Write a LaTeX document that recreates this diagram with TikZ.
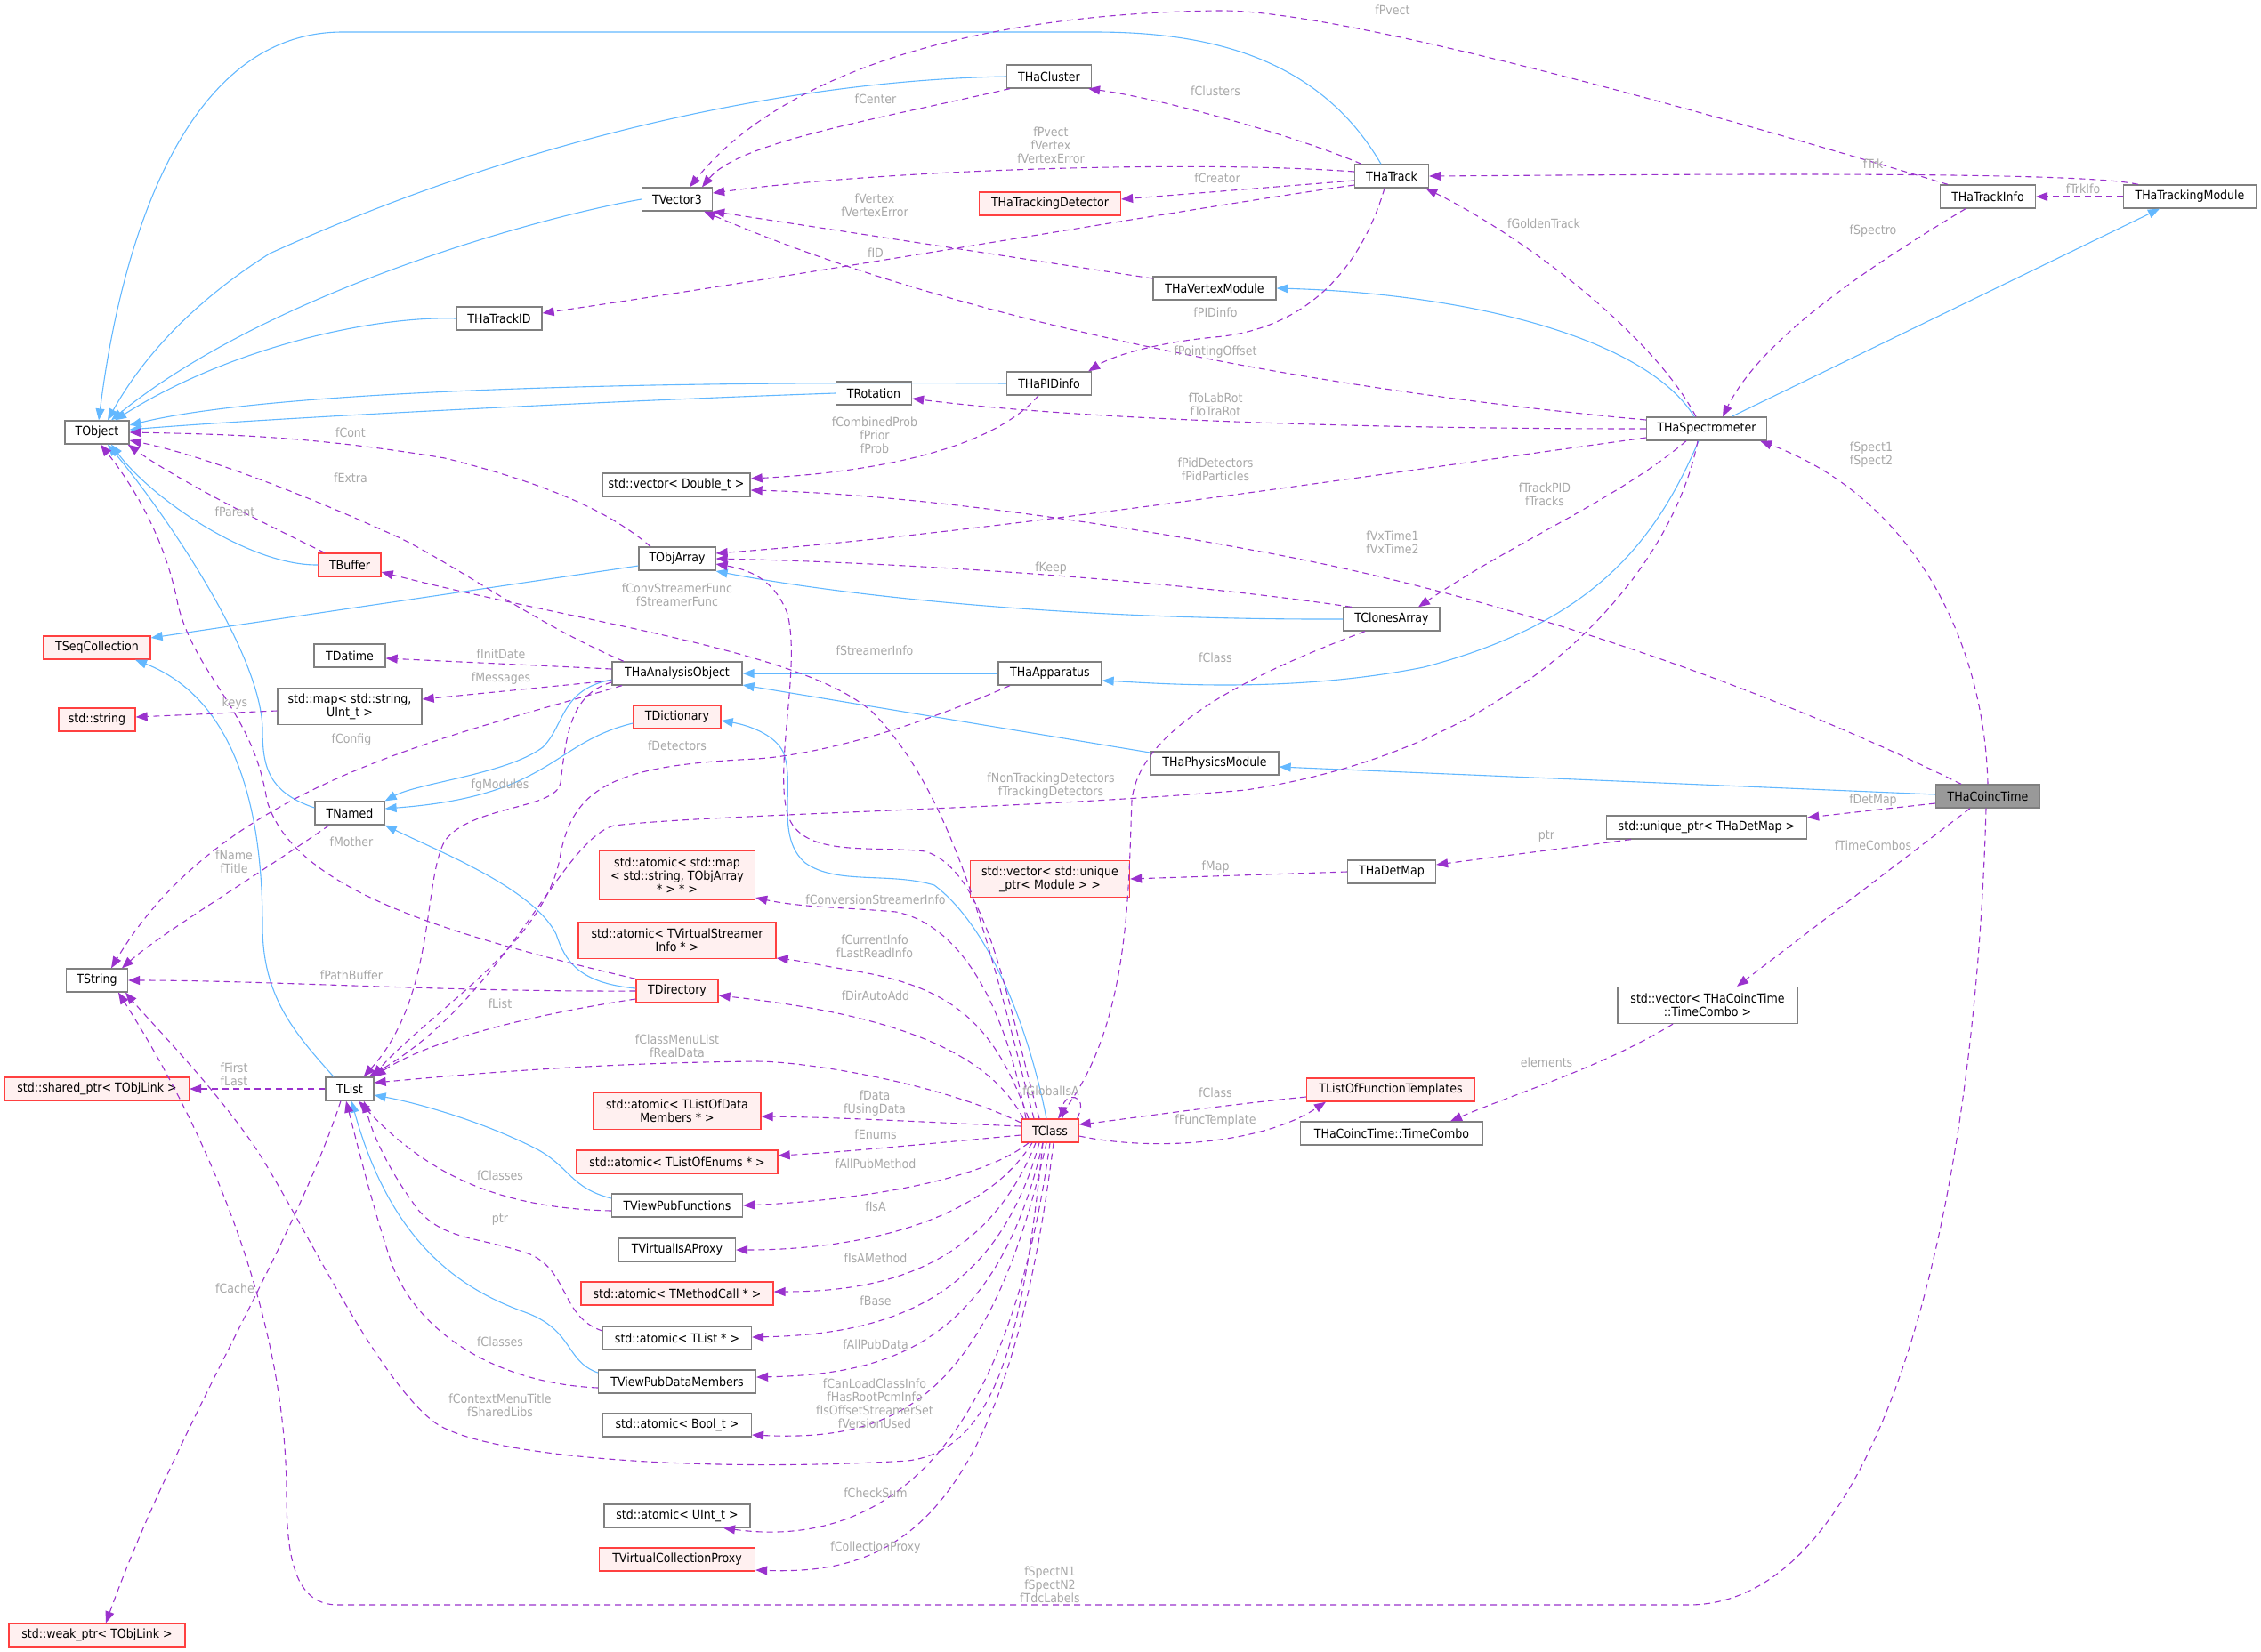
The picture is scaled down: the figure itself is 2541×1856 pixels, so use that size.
\documentclass[tikz,border=0pt]{standalone}
\usepackage{fontspec}
\newfontfamily\dvsc{DejaVu Sans Condensed}
\usetikzlibrary{arrows.meta}
\definecolor{inhblue}{HTML}{63B8FF}
\definecolor{memviolet}{HTML}{9A32CD}
\definecolor{lblgray}{HTML}{A8A8A8}
\definecolor{boxgray}{HTML}{808080}
\definecolor{extfill}{HTML}{FFF0F0}
\definecolor{extred}{HTML}{FF4040}
\definecolor{maingray}{HTML}{999999}
\newcommand{\nodefont}{\dvsc\fontsize{14}{15}\selectfont}
\tikzset{
  cls/.style={draw=boxgray, fill=white, line width=1.3pt, minimum height=26pt, inner xsep=3pt, inner ysep=2pt, font=\nodefont, align=center},
  clsext/.style={cls, draw=extred, fill=extfill},
  clsmain/.style={cls, fill=maingray},
  inherit/.style={draw=inhblue, line width=1.1pt, -{Triangle[length=13pt,width=10pt]}},
  member/.style={draw=memviolet, line width=1.1pt, dash pattern=on 7pt off 5pt, -{Triangle[length=13pt,width=10pt]}},
  lbl/.style={text=lblgray, font=\nodefont, align=center, inner sep=0pt}
}
\begin{document}
\begin{tikzpicture}[x=1pt,y=-1pt]
\useasboundingbox (0,0) rectangle (2541,1856);

% left column
\node[cls, minimum width=72pt] (tobj) at (109,486) {TObject};
\node[clsext, minimum width=120pt] (seqcol) at (109,728) {TSeqCollection};
\node[clsext, minimum width=86pt] (sstr) at (109,809) {std::string};
\node[cls, minimum width=69pt] (tstr) at (109,1102) {TString};
\node[clsext, minimum width=207pt] (sptr) at (109,1224) {std::shared\_ptr< TObjLink >};
\node[clsext, minimum width=198pt] (wptr) at (109,1838) {std::weak\_ptr< TObjLink >};

% second column
\node[cls, minimum width=96pt] (trkid) at (561,358) {THaTrackID};
\node[clsext, minimum width=70pt] (tbuf) at (393,635) {TBuffer};
\node[cls, minimum width=80pt] (datime) at (393,737) {TDatime};
\node[cls, minimum width=162pt, minimum height=41pt] (smap) at (393,794) {std::map< std::string,\\ UInt\_t >};
\node[cls, minimum width=78pt] (tnamed) at (393,914) {TNamed};
\node[cls, minimum width=54pt] (tlist) at (393,1224) {TList};

% third column
\node[cls, minimum width=79pt] (tvec) at (761,224) {TVector3};
\node[cls, minimum width=166pt] (vecdbl) at (760,545) {std::vector< Double\_t >};
\node[cls, minimum width=86pt] (objarr) at (761,628) {TObjArray};
\node[cls, minimum width=146pt] (anaobj) at (761,757) {THaAnalysisObject};
\node[clsext, minimum width=98pt] (tdict) at (761,806) {TDictionary};
\node[clsext, minimum width=175pt, minimum height=55pt] (amap) at (761,984) {std::atomic< std::map\\< std::string, TObjArray\\ * > * >};
\node[clsext, minimum width=222pt, minimum height=41pt] (avsi) at (761,1057) {std::atomic< TVirtualStreamer\\Info * >};
\node[clsext, minimum width=92pt] (tdir) at (761,1114) {TDirectory};
\node[clsext, minimum width=188pt, minimum height=41pt] (adm) at (761,1249) {std::atomic< TListOfData\\Members * >};
\node[clsext, minimum width=226pt] (aenum) at (761,1306) {std::atomic< TListOfEnums * >};
\node[cls, minimum width=147pt] (vpf) at (761,1355) {TViewPubFunctions};
\node[cls, minimum width=131pt] (visa) at (761,1405) {TVirtualIsAProxy};
\node[clsext, minimum width=216pt] (amc) at (761,1454) {std::atomic< TMethodCall * >};
\node[cls, minimum width=167pt] (alist) at (761,1504) {std::atomic< TList * >};
\node[cls, minimum width=177pt] (vpd) at (761,1553) {TViewPubDataMembers};
\node[cls, minimum width=167pt] (abool) at (761,1602) {std::atomic< Bool\_t >};
\node[cls, minimum width=164pt] (auint) at (761,1704) {std::atomic< UInt\_t >};
\node[clsext, minimum width=175pt] (vcp) at (761,1753) {TVirtualCollectionProxy};

% fourth column
\node[cls, minimum width=85pt] (rot) at (982,442) {TRotation};
\node[cls, minimum width=95pt] (clus) at (1179,86) {THaCluster};
\node[clsext, minimum width=159pt] (trkdet) at (1180,229) {THaTrackingDetector};
\node[cls, minimum width=95pt] (pid) at (1179,431) {THaPIDinfo};
\node[cls, minimum width=116pt] (app) at (1180,757) {THaApparatus};
\node[clsext, minimum width=179pt, minimum height=41pt] (vmod) at (1180,988) {std::vector< std::unique\\\_ptr< Module > >};
\node[clsext, minimum width=64pt] (tclass) at (1180,1271) {TClass};

% fifth column
\node[cls, minimum width=138pt] (vtxmod) at (1365,324) {THaVertexModule};
\node[cls, minimum width=144pt] (phys) at (1365,858) {THaPhysicsModule};
\node[cls, minimum width=83pt] (track) at (1564,198) {THaTrack};
\node[cls, minimum width=108pt] (clones) at (1564,696) {TClonesArray};
\node[cls, minimum width=99pt] (detmap) at (1564,980) {THaDetMap};
\node[clsext, minimum width=189pt] (lft) at (1563,1225) {TListOfFunctionTemplates};
\node[cls, minimum width=205pt] (combo) at (1564,1274) {THaCoincTime::TimeCombo};

% right part
\node[cls, minimum width=135pt] (spec) at (1918,482) {THaSpectrometer};
\node[cls, minimum width=225pt] (uptr) at (1918,930) {std::unique\_ptr< THaDetMap >};
\node[cls, minimum width=202pt, minimum height=41pt] (vcombo) at (1919,1130) {std::vector< THaCoincTime\\::TimeCombo >};
\node[cls, minimum width=107pt] (trkinfo) at (2234,221) {THaTrackInfo};
\node[cls, minimum width=149pt] (trkmod) at (2461,221) {THaTrackingModule};
\node[clsmain, minimum width=117pt] (coinc) at (2234,895) {THaCoincTime};

% inheritance
\draw[inherit] ([xshift=-12pt]track.north) .. controls (1480,60) and (1350,36) .. (1230,36) -- (385,36) .. controls (190,36) and (130,320) .. ([xshift=2pt]tobj.north);
\draw[inherit] (clus.west) .. controls (900,90) and (600,150) .. (303,285) .. controls (200,350) and (150,420) .. ([xshift=12pt]tobj.north);
\draw[inherit] (tvec.west) .. controls (600,245) and (300,330) .. ([xshift=16pt]tobj.north);
\draw[inherit] (trkid.west) .. controls (420,355) and (260,390) .. ([xshift=20pt]tobj.north);
\draw[inherit] (pid.west) .. controls (700,428) and (300,440) .. ([yshift=8pt]tobj.east);
\draw[inherit] (rot.west) .. controls (700,450) and (300,470) .. ([yshift=3pt]tobj.east);
\draw[inherit] (tbuf.west) .. controls (280,636) and (170,560) .. ([xshift=16pt]tobj.south);
\draw[inherit] ([yshift=6pt]tnamed.west) .. controls (300,890) and (295,860) .. (295,818) .. controls (292,730) and (180,570) .. ([xshift=12pt]tobj.south);
\draw[inherit] ([yshift=-8pt]objarr.west) -- ([yshift=11pt]seqcol.east);
\draw[inherit] ([xshift=-18pt]tlist.north) .. controls (330,1160) and (295,1120) .. (295,1040) .. controls (295,880) and (250,780) .. ([xshift=43pt]seqcol.south);
\draw[inherit] (clones.west) .. controls (1200,697) and (950,670) .. ([yshift=-14pt]objarr.east);
\draw[inherit] (app.west) -- (anaobj.east);
\draw[inherit] ([yshift=12pt]phys.west) -- ([yshift=-13pt]anaobj.east);
\draw[inherit] ([xshift=-9pt]spec.south) .. controls (1860,610) and (1790,700) .. (1600,750) .. controls (1450,780) and (1300,768) .. ([yshift=-8pt]app.east);
\draw[inherit] ([xshift=-14pt]spec.north) .. controls (1850,380) and (1650,330) .. (vtxmod.east);
\draw[inherit] ([xshift=28pt]spec.north) -- ([xshift=-34pt]trkmod.south);
\draw[inherit] ([yshift=2pt]coinc.west) -- ([yshift=-4pt]phys.east);
\draw[inherit] ([yshift=-7pt]tdict.west) .. controls (620,835) and (620,895) .. ([yshift=5pt]tnamed.east);
\draw[inherit] ([yshift=-7pt]anaobj.west) .. controls (630,775) and (635,815) .. (610,840) .. controls (570,870) and (470,880) .. (tnamed.north east);
\draw[inherit] ([yshift=3pt]tdir.west) .. controls (650,1105) and (635,1080) .. (625,1050) .. controls (600,1000) and (500,960) .. (tnamed.south east);
\draw[inherit] ([xshift=-4pt]tclass.north) .. controls (1155,1150) and (1110,1040) .. (1050,995) .. controls (1000,980) and (940,995) .. (905,970) .. controls (870,940) and (895,880) .. (880,845) .. controls (870,825) and (840,815) .. ([yshift=-4pt]tdict.east);
\draw[inherit] ([yshift=8pt]vpf.west) .. controls (640,1335) and (640,1310) .. (600,1290) .. controls (540,1260) and (470,1240) .. ([yshift=-7pt]tlist.east);
\draw[inherit] ([yshift=10pt]vpd.west) .. controls (635,1530) and (645,1495) .. (590,1475) .. controls (520,1450) and (440,1400) .. ([xshift=2pt]tlist.south);

% members
\draw[member] ([xshift=-44pt]clus.south) .. controls (980,135) and (830,160) .. ([xshift=28pt]tvec.north);
\draw[member] ([xshift=-45pt]trkinfo.north) .. controls (1900,120) and (1500,10) .. (1370,12) .. controls (1100,15) and (880,80) .. ([xshift=14pt]tvec.north);
\draw[member] ([yshift=5pt]track.west) .. controls (1350,180) and (1000,190) .. ([yshift=7pt]tvec.east);
\draw[member] ([yshift=-5pt]track.west) -- ([yshift=5pt]trkdet.east);
\draw[member] ([yshift=-10pt]track.west) .. controls (1300,240) and (900,310) .. ([yshift=6pt]trkid.east);
\draw[member] ([xshift=-34pt]track.north) .. controls (1450,150) and (1300,110) .. ([xshift=-4pt]clus.south east);
\draw[member] ([xshift=-8pt]track.south) .. controls (1530,300) and (1470,370) .. (1365,379) .. controls (1300,385) and (1250,400) .. ([xshift=-4pt]pid.north east);
\draw[member] ([yshift=11pt]vtxmod.west) -- (tvec.south east);
\draw[member] ([yshift=10pt]spec.west) .. controls (1500,440) and (1100,370) .. ([xshift=-10pt]tvec.south east);
\draw[member] (spec.west) .. controls (1500,482) and (1200,470) .. ([yshift=-6pt]rot.east);
\draw[member] ([yshift=-10pt]spec.west) .. controls (1500,540) and (1100,600) .. ([yshift=6pt]objarr.east);
\draw[member] ([xshift=-12pt]pid.south) .. controls (1120,500) and (1000,530) .. ([yshift=7pt]vecdbl.east);
\draw[member] ([xshift=-30pt]coinc.north) .. controls (2000,780) and (1700,670) .. (1400,617) .. controls (1200,580) and (1000,555) .. ([yshift=-6pt]vecdbl.east);
\draw[member] ([xshift=-58pt]trkmod.north) .. controls (2340,192) and (1900,196) .. (track.east);
\draw[member] (trkmod.west) -- (trkinfo.east);
\draw[member] ([xshift=-25pt]trkinfo.south) .. controls (2100,300) and (1980,380) .. ([xshift=18pt]spec.north);
\draw[member] ([xshift=-12pt]spec.north) .. controls (1860,380) and (1720,270) .. ([xshift=-4pt]track.south east);
\draw[member] (coinc.north) .. controls (2230,720) and (2150,560) .. ([xshift=-8pt]spec.south east);
\draw[member] ([xshift=-23pt]spec.south) .. controls (1820,560) and (1700,610) .. ([xshift=30pt]clones.north);
\draw[member] ([xshift=-10pt]spec.south) .. controls (1880,640) and (1720,840) .. (1400,888) .. controls (1150,910) and (800,915) .. (690,928) .. controls (630,945) and (570,1120) .. ([xshift=-6pt]tlist.north east);
\draw[member] ([yshift=-10pt]anaobj.west) .. controls (640,780) and (636,830) .. (630,880) .. controls (625,910) and (530,905) .. (500,945) .. controls (475,990) and (490,1120) .. ([xshift=-12pt]tlist.north east);
\draw[member] ([xshift=-45pt]app.south) .. controls (1000,830) and (900,850) .. (850,853) .. controls (700,860) and (645,880) .. (630,960) .. controls (615,1060) and (480,1140) .. ([xshift=-2pt]tlist.north east);
\draw[member] ([yshift=-9pt]tdir.west) .. controls (600,1140) and (480,1170) .. (tlist.north east);
\draw[member] ([yshift=9pt]tclass.west) .. controls (1050,1215) and (900,1193) .. (850,1193) .. controls (650,1195) and (500,1210) .. ([yshift=7pt]tlist.east);
\draw[member] ([yshift=-6pt]vpf.west) .. controls (560,1358) and (480,1320) .. ([xshift=10pt]tlist.south);
\draw[member] ([yshift=8pt]alist.west) .. controls (630,1480) and (640,1430) .. (596,1410) .. controls (540,1390) and (500,1395) .. (470,1360) .. controls (440,1320) and (420,1280) .. ([xshift=16pt]tlist.south);
\draw[member] ([yshift=-7pt]vpd.west) .. controls (560,1555) and (470,1500) .. (440,1420) .. controls (420,1360) and (405,1300) .. ([xshift=-4pt]tlist.south);
\draw[member] ([xshift=-30pt]objarr.north) .. controls (680,570) and (600,540) .. (500,515) .. controls (350,490) and (250,488) .. (tobj.east);
\draw[member] ([xshift=-60pt]anaobj.north) .. controls (600,700) and (520,640) .. (450,605) .. controls (330,550) and (220,510) .. ([yshift=-9pt]tobj.east);
\draw[member] ([xshift=-28pt]tbuf.north) .. controls (300,590) and (200,540) .. ([xshift=-2pt]tobj.south east);
\draw[member] (tdir.north west) .. controls (500,1050) and (330,1000) .. (300,900) .. controls (285,800) and (220,760) .. (200,680) .. controls (185,600) and (145,540) .. ([xshift=4pt]tobj.south);
\draw[member] ([yshift=-5pt]smap.west) -- ([yshift=3pt]sstr.east);
\draw[member] ([yshift=5pt]anaobj.west) -- ([yshift=-3pt]datime.east);
\draw[member] ([yshift=-8pt]anaobj.west) -- ([yshift=8pt]smap.east);
\draw[member] ([xshift=-62pt]anaobj.south) .. controls (500,830) and (250,880) .. ([xshift=16pt]tstr.north);
\draw[member] ([xshift=-23pt]tnamed.south) .. controls (280,990) and (180,1050) .. ([xshift=28pt]tstr.north);
\draw[member] (tdir.west) .. controls (500,1115) and (300,1102) .. (tstr.east);
\draw[member] ([xshift=-30pt]tclass.north) .. controls (1110,1180) and (1000,1140) .. ([yshift=-5pt]tdir.east);
\draw[member] ([xshift=-18pt]tclass.north) .. controls (1120,1100) and (1080,900) .. (980,800) .. controls (900,730) and (650,700) .. ([yshift=-8pt]tbuf.east);
\draw[member] ([xshift=-12pt]tclass.north) .. controls (1130,1120) and (1110,980) .. (1040,957) .. controls (980,950) and (900,965) .. (885,915) .. controls (870,860) and (900,750) .. (885,690) .. controls (870,650) and (840,640) .. ([yshift=-6pt]objarr.east);
\draw[member] ([xshift=-45pt]clones.north) .. controls (1300,650) and (1000,632) .. (objarr.east);
\draw[member] ([xshift=-30pt]clones.south) .. controls (1400,760) and (1280,820) .. (1272,900) .. controls (1268,1000) and (1270,1150) .. ([xshift=9pt]tclass.north);
\draw[member] ([xshift=-2pt]tclass.north east) .. controls (1225,1228) and (1195,1228) .. ([xshift=14pt]tclass.north);
\draw[member] ([yshift=-8pt]lft.west) .. controls (1350,1245) and (1250,1260) .. ([yshift=7pt]tclass.east);
\draw[member] ([yshift=-6pt]tclass.east) .. controls (1300,1295) and (1420,1285) .. ([xshift=-73pt]lft.south);
\draw[member] ([xshift=-39pt]vcombo.south) .. controls (1800,1200) and (1700,1230) .. ([xshift=66pt]combo.north);
\draw[member] ([xshift=-20pt]coinc.south) -- ([xshift=33pt]vcombo.north);
\draw[member] ([yshift=-8pt]coinc.west) -- ([yshift=11pt]uptr.east);
\draw[member] ([xshift=-85pt]uptr.south) -- ([yshift=8pt]detmap.east);
\draw[member] (detmap.west) -- (vmod.east);
\draw[member] ([xshift=-2pt]coinc.south) .. controls (2220,1350) and (2120,1800) .. (1900,1804) -- (380,1804) .. controls (335,1804) and (322,1760) .. (322,1680) .. controls (322,1500) and (250,1300) .. ([xshift=24pt]tstr.south);
\draw[member] ([xshift=-8pt]tclass.south) .. controls (1150,1500) and (1120,1630) .. (1020,1642) .. controls (800,1655) and (550,1640) .. (490,1600) .. controls (420,1550) and (330,1350) .. (280,1280) .. controls (230,1210) and (170,1150) .. ([xshift=32pt]tstr.south);
\draw[member] (tlist.west) -- (sptr.east);
\draw[member] ([xshift=-10pt]tlist.south) .. controls (330,1400) and (200,1600) .. ([xshift=10pt]wptr.north);
\draw[member] ([xshift=-27pt]tclass.north) .. controls (1130,1130) and (1080,1040) .. (1007,1025) .. controls (950,1020) and (900,1020) .. ([yshift=-25pt]amap.east);
\draw[member] ([xshift=-24pt]tclass.north) .. controls (1120,1160) and (1080,1110) .. (958,1091) .. controls (920,1085) and (900,1080) .. ([yshift=-20pt]avsi.east);
\draw[member] ([yshift=5pt]tclass.west) .. controls (1050,1262) and (950,1256) .. ([yshift=-6pt]adm.east);
\draw[member] ([yshift=-5pt]tclass.west) .. controls (1050,1285) and (950,1295) .. ([yshift=7pt]aenum.east);
\draw[member] ([xshift=-24pt]tclass.south) .. controls (1100,1330) and (950,1350) .. (vpf.east);
\draw[member] ([xshift=-20pt]tclass.south) .. controls (1100,1380) and (950,1405) .. (visa.east);
\draw[member] ([xshift=-16pt]tclass.south) .. controls (1110,1420) and (1000,1452) .. ([yshift=2pt]amc.east);
\draw[member] ([xshift=-12pt]tclass.south) .. controls (1120,1460) and (1000,1500) .. ([yshift=1pt]alist.east);
\draw[member] ([xshift=-8pt]tclass.south) .. controls (1120,1510) and (1000,1545) .. ([yshift=5pt]vpd.east);
\draw[member] ([xshift=-4pt]tclass.south) .. controls (1110,1580) and (1000,1620) .. ([yshift=-11pt]abool.east);
\draw[member] (tclass.south) .. controls (1130,1650) and (980,1740) .. ([xshift=52pt]auint.south);
\draw[member] ([xshift=4pt]tclass.south) .. controls (1130,1720) and (1000,1770) .. ([yshift=-12pt]vcp.east);

% labels
\node[lbl] (lpv) at (1565,11) {fPvect};
\node[lbl] (lcen) at (984,111) {fCenter};
\node[lbl] (lclu) at (1366,102) {fClusters};
\node[lbl] (lpvv) at (1181,163) {fPvect\\fVertex\\fVertexError};
\node[lbl] (lcre) at (1368,200) {fCreator};
\node[lbl] (lvtx) at (983,231) {fVertex\\fVertexError};
\node[lbl] (lid) at (984,284) {fID};
\node[lbl] (lpid) at (1366,351) {fPIDinfo};
\node[lbl] (lpof) at (1366,396) {fPointingOffset};
\node[lbl] (lrot) at (1366,455) {fToLabRot\\fToTraRot};
\node[lbl] (lprob) at (983,489) {fCombinedProb\\fPrior\\fProb};
\node[lbl] (lpdet) at (1366,528) {fPidDetectors\\fPidParticles};
\node[lbl] (lvxt) at (1565,610) {fVxTime1\\fVxTime2};
\node[lbl] (ltrk) at (2105,184) {fTrk};
\node[lbl] (lifo) at (2341,212) {fTrkIfo};
\node[lbl] (lgold) at (1735,251) {fGoldenTrack};
\node[lbl] (lspo) at (2105,260) {fSpectro};
\node[lbl] (lsp12) at (2103,511) {fSpect1\\fSpect2};
\node[lbl] (ltpid) at (1736,556) {fTrackPID\\fTracks};
\node[lbl] (lcont) at (394,486) {fCont};
\node[lbl] (lext) at (394,537) {fExtra};
\node[lbl] (lpar) at (264,575) {fParent};
\node[lbl] (lkeep) at (1181,639) {fKeep};
\node[lbl] (lconv) at (761,669) {fConvStreamerFunc\\fStreamerFunc};
\node[lbl] (lsinf) at (983,731) {fStreamerInfo};
\node[lbl] (lcls) at (1366,739) {fClass};
\node[lbl] (lini) at (563,735) {fInitDate};
\node[lbl] (lmsg) at (563,763) {fMessages};
\node[lbl] (lkeys) at (264,791) {keys};
\node[lbl] (lcfg) at (395,832) {fConfig};
\node[lbl] (ldet) at (761,838) {fDetectors};
\node[lbl] (lntd) at (1181,883) {fNonTrackingDetectors\\fTrackingDetectors};
\node[lbl] (lgm) at (562,883) {fgModules};
\node[lbl] (ldm) at (2105,900) {fDetMap};
\node[lbl] (lptr) at (1738,940) {ptr};
\node[lbl] (lmot) at (395,946) {fMother};
\node[lbl] (ltc) at (2105,950) {fTimeCombos};
\node[lbl] (lnam) at (263,969) {fName\\fTitle};
\node[lbl] (lmap) at (1366,975) {fMap};
\node[lbl] (lcsi) at (984,1011) {fConversionStreamerInfo};
\node[lbl] (lcur) at (983,1064) {fCurrentInfo\\fLastReadInfo};
\node[lbl] (lpb) at (395,1096) {fPathBuffer};
\node[lbl] (ldaa) at (984,1119) {fDirAutoAdd};
\node[lbl] (llst) at (562,1128) {fList};
\node[lbl] (lcml) at (761,1176) {fClassMenuList\\fRealData};
\node[lbl] (lelem) at (1738,1194) {elements};
\node[lbl] (lfl) at (263,1208) {fFirst\\fLast};
\node[lbl] (lgis) at (1181,1226) {fGlobalIsA};
\node[lbl] (lcls2) at (1366,1228) {fClass};
\node[lbl] (ldat) at (983,1240) {fData\\fUsingData};
\node[lbl] (lft2) at (1366,1260) {fFuncTemplate};
\node[lbl] (lenum) at (984,1275) {fEnums};
\node[lbl] (lapm) at (984,1308) {fAllPubMethod};
\node[lbl] (lcl1) at (562,1321) {fClasses};
\node[lbl] (lisa) at (984,1356) {fIsA};
\node[lbl] (lptr2) at (562,1371) {ptr};
\node[lbl] (lisam) at (984,1414) {fIsAMethod};
\node[lbl] (lcache) at (264,1448) {fCache};
\node[lbl] (lbase) at (984,1462) {fBase};
\node[lbl] (lcl2) at (562,1508) {fClasses};
\node[lbl] (lapd) at (984,1511) {fAllPubData};
\node[lbl] (lcan) at (983,1578) {fCanLoadClassInfo\\fHasRootPcmInfo\\fIsOffsetStreamerSet\\fVersionUsed};
\node[lbl] (lctx) at (562,1580) {fContextMenuTitle\\fSharedLibs};
\node[lbl] (lchk) at (984,1678) {fCheckSum};
\node[lbl] (lcol) at (984,1740) {fCollectionProxy};
\node[lbl] (lspn) at (1180,1781) {fSpectN1\\fSpectN2\\fTdcLabels};
\end{tikzpicture}
\end{document}
